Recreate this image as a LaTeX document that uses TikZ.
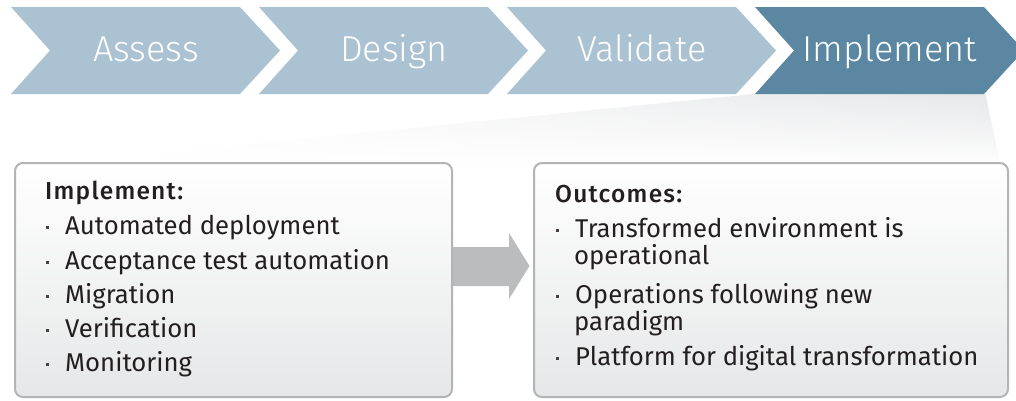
\documentclass[tikz,border=0pt]{standalone}
\usepackage{fontspec}
\setmainfont{Fira Sans}
\newfontfamily\lightfont{Fira Sans Light}
\newfontfamily\headfont{Fira Sans Medium}[LetterSpace=5]
\usetikzlibrary{fadings}
\definecolor{chevlight}{HTML}{ABC2D3}
\definecolor{chevdark}{HTML}{5B87A2}
\definecolor{boxline}{HTML}{B3B4B6}
\definecolor{boxbot}{HTML}{E6E7E8}
\definecolor{arrowgray}{HTML}{BBBCBE}
\definecolor{fangray}{HTML}{E6E7E9}
\definecolor{txt}{HTML}{231F20}
\tikzfading[name=fadeleft, left color=transparent!100, middle color=transparent!30, right color=transparent!0]
\tikzset{
  chevlabel/.style={font=\lightfont\fontsize{36}{40}\selectfont, text=white, anchor=base, inner sep=0pt},
  infobox/.style={draw=boxline, line width=2pt, rounded corners=8pt, top color=white, bottom color=boxbot},
  head/.style={font=\headfont\fontsize{24.5}{27}\selectfont, text=txt, anchor=base west, inner sep=0pt},
  item/.style={font=\fontsize{25.7}{29}\selectfont, text=txt, anchor=base west, inner sep=0pt},
  dot/.style={fill=txt!85, minimum size=3pt, inner sep=0pt, outer sep=0pt},
}
\begin{document}
\begin{tikzpicture}[x=1pt,y=-1pt]
\useasboundingbox (0,0) rectangle (1016,400);
\clip (0,0) rectangle (1016,400);
% fan
\path[top color=fangray, bottom color=white!97!fangray, path fading=fadeleft]
  (755,94) -- (987,94) -- (1002,165) -- (40,165) -- cycle;
% chevrons
\foreach \a/\c/\t/\n in {11/chevlight/Assess/a, 259/chevlight/Design/b, 507/chevlight/Validate/c, 755/chevdark/Implement/d}{
  \fill[\c] (\a,7) -- ++(229,0) -- ++(40,43.5) -- ++(-40,43.5) -- ++(-229,0) -- ++(39,-43.5) -- cycle;
  \node[chevlabel] (chev\n) at (\a+135,61) {\t};
}
% arrow
\fill[arrowgray] (452,247) -- (509,247) -- (509,233) -- (529.5,266) -- (509,299) -- (509,286) -- (452,286) -- cycle;
% boxes
\path[infobox] (15,163) rectangle (452,397);
\path[infobox] (534,163) rectangle (1008,397);
% left text
\node[head] (lh) at (45,199.5) {Implement:};
\foreach \y/\t/\n in {234/Automated deployment/1, 269/Acceptance test automation/2, 303/Migration/3, 337/Verification/4, 371/Monitoring/5}{
  \node[dot] (ld\n) at (47,\y-7) {};
  \node[item] (li\n) at (65,\y) {\t};
}
% right text
\node[head] (rh) at (555,202) {Outcomes:};
\node[dot] (rd1) at (557,230) {};
\node[item] (ri1) at (575,237) {Transformed environment is};
\node[item] (ri1b) at (574,264) {operational};
\node[dot] (rd2) at (557,296) {};
\node[item] (ri2) at (575,303) {Operations following new};
\node[item] (ri2b) at (574,330) {paradigm};
\node[dot] (rd3) at (557,358) {};
\node[item] (ri3) at (575,365) {Platform for digital transformation};
\end{tikzpicture}
\end{document}
